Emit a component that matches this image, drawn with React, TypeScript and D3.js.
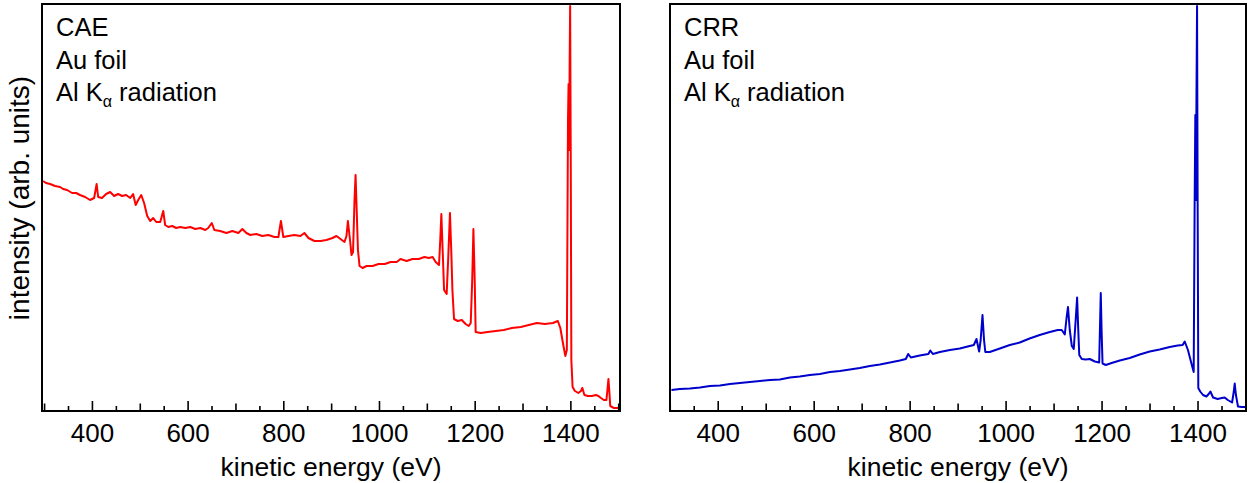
import React, { useEffect, useRef, useMemo } from 'react';
import * as d3 from 'd3';

// kinetic energy (eV) / intensity (arb. units)
const caeEnergy = [
  296.8, 303, 311.5, 322, 332.4, 338.7, 347, 357.5, 366, 374, 384.7, 395, 403.6, 408.8, 412, 420,
  428.7, 437, 445.4, 453.8, 462, 470.5, 479, 485, 490.4, 495.7, 502, 508, 514.5, 520.8, 527, 533.3,
  541.7, 548, 552, 558.5, 566.8, 575, 583.6, 594, 604.5, 615, 625.5, 636, 642, 649.5, 654.8, 667,
  680, 692.4, 705, 713.4, 721.8, 730, 742.7, 755, 767.8, 780.4, 788.7, 794, 799, 809.7, 822, 834.8,
  843, 851.5, 864, 876.7, 889, 901.8, 910, 918.5, 926.8, 931, 934, 938.4, 941.5, 944.7, 947.8, 950,
  952, 955, 958.3, 964.6, 973, 985.5, 998, 1011, 1023.5, 1036, 1044, 1056.7, 1069, 1082, 1094, 1103,
  1111, 1117.4, 1124.4, 1127, 1129.3, 1132, 1135, 1140.4, 1143.5, 1147.3, 1150, 1152.4, 1155.8, 1163.5,
  1172, 1180, 1186.5, 1190.7, 1193.8, 1196.3, 1199, 1201, 1211.6, 1226, 1243, 1259.8, 1276.5, 1295.4,
  1312, 1328.9, 1345.6, 1362.4, 1372.8, 1378, 1383, 1388.5, 1391.6, 1394, 1395.2, 1396.4, 1397.5,
  1398.5, 1399.7, 1401, 1403.6, 1408.4, 1415.7, 1421, 1424, 1428.3, 1435.6, 1444, 1452.3, 1457.6,
  1462.8, 1469, 1474.3, 1476.4, 1478.5, 1480.5, 1482.3, 1490, 1498.4, 1502.6,
];
const caeIntensity = [
  230, 228, 227, 225, 224, 222, 221, 218, 218, 216, 214, 211, 213, 227, 214, 213,
  217, 219, 215, 217, 215, 216, 213, 217, 206, 211, 216, 208, 195, 190, 193, 189,
  189, 200, 186, 184, 185, 183, 184, 183, 184, 182, 183, 181, 183, 188, 181, 180,
  178, 180, 178, 182, 178, 176, 177, 175, 176, 174, 174, 190, 174, 175, 176, 175,
  178, 173, 170, 170, 171, 173, 175, 172, 169, 175, 190, 171, 156, 159, 211, 236,
  206, 161, 145, 143, 145, 145, 147, 147, 149, 149, 152, 150, 152, 152, 154, 153,
  154, 149, 146, 171, 197, 161, 121, 117, 151, 198, 161, 121, 92, 90,
  91, 87, 85, 88, 131, 182, 131, 79, 78, 79, 80, 81, 83, 84,
  86, 88, 87, 88, 90, 83, 69, 55, 61, 291, 327, 261, 351,
  405, 261, 51, 24, 20, 18, 20, 23, 16, 15, 15, 16, 15,
  13, 11, 11, 21, 32, 19, 5, 3, 3, 3,
];

const crrEnergy = [
  302.5, 320, 341, 362, 382.7, 403.6, 424.4, 445.2, 466, 487, 508, 528.5, 549.4, 570, 591, 612,
  632.8, 653.6, 674.5, 695, 716, 737, 758, 778.5, 791, 796, 801.5, 820, 838, 842, 847.3, 862,
  883, 903.5, 920, 932.7, 938.3, 943.8, 947, 950.8, 954, 956.7, 966, 987, 1007.7, 1028.5, 1049, 1070,
  1091, 1107.7, 1116, 1122.3, 1126, 1129, 1132.7, 1137, 1141, 1145, 1148, 1150.4, 1152.5, 1157.7,
  1166, 1174.4, 1185, 1194, 1196, 1197.3, 1199, 1201, 1207.7, 1220, 1237, 1257.7, 1278.5, 1299.4,
  1320, 1341, 1357.7, 1368, 1372.3, 1379, 1386, 1391, 1393, 1394.4, 1395.6, 1396.7, 1398, 1399.2,
  1400.6, 1404.6, 1410.4, 1417.5, 1422.3, 1425.8, 1431.3, 1441, 1449.4, 1455.6, 1462, 1471, 1474.4,
  1476.5, 1479, 1483.3, 1491, 1499.4,
];
const crrIntensity = [
  21, 22, 22.5, 23.5, 25, 25.5, 27, 28, 29, 30, 31, 31.5, 33.5, 34.5, 36, 37,
  39, 40, 41.5, 43, 45, 46.5, 48.5, 50.5, 52, 57, 53.5, 55.5, 57, 60.5, 57, 59,
  61, 62.5, 64.5, 66, 72, 59.5, 71, 96, 71, 59, 59, 62.5, 66, 68.5, 72.5, 76,
  79, 81, 81, 76.5, 93, 104, 81, 65, 62, 91, 113.5, 81, 56, 52,
  51.5, 52, 49.5, 48.5, 91, 118, 81, 47.5, 46, 48, 50.5, 53, 56.5, 59.5,
  61.5, 64, 65.5, 66, 69.5, 61, 48, 39, 211, 296, 211, 311, 405, 211,
  23, 19.5, 16, 14.5, 17, 19.5, 13.5, 12, 13, 13.5, 11, 8.5, 19,
  27.5, 16, 4.5, 4, 4,
];

const tickValues = d3.range(300, 1501, 50);
const tickLabels = [400, 600, 800, 1000, 1200, 1400];
const annotationLines = ['Au foil'];

const FONT = '"Liberation Sans", Arial, Helvetica, sans-serif';

const Panel = ({ svgRef, x0, x1, domain, energy, intensity, color, name }) => {
  const top = 4;
  const bottom = 411;

  const { x, y } = useMemo(() => {
    const xScale = d3.scaleLinear().domain(domain).range([x0, x1]);
    const yScale = d3.scaleLinear().domain([0, 407]).range([bottom, top]);
    return { x: xScale, y: yScale };
  }, [x0, x1, domain]);

  useEffect(() => {
    const svg = d3.select(svgRef.current);
    const g = svg.append('g');
    const clipId = `clip-${name}`;

    g.append('clipPath').attr('id', clipId)
      .append('rect')
      .attr('x', x0).attr('y', top)
      .attr('width', x1 - x0).attr('height', bottom - top);

    const line = d3.line()
      .x(d => x(d[0]))
      .y(d => y(d[1]));

    g.append('path')
      .datum(energy.map((e, i) => [e, intensity[i]]))
      .attr('clip-path', `url(#${clipId})`)
      .attr('fill', 'none')
      .attr('stroke', color)
      .attr('stroke-width', 2)
      .attr('stroke-linejoin', 'round')
      .attr('d', line);

    // inward ticks, three lengths
    g.selectAll('line.tick')
      .data(tickValues.filter(v => v >= domain[0] && v <= domain[1]))
      .join('line')
      .attr('x1', d => x(d)).attr('x2', d => x(d))
      .attr('y1', bottom)
      .attr('y2', d => bottom - (d % 200 === 0 ? 10 : d % 100 === 0 ? 7.5 : 5))
      .attr('stroke', '#000')
      .attr('stroke-width', 1.6);

    g.selectAll('text.tick')
      .data(tickLabels)
      .join('text')
      .attr('x', d => x(d))
      .attr('y', 442)
      .attr('text-anchor', 'middle')
      .attr('font-family', FONT)
      .attr('font-size', 26)
      .text(d => d);

    g.append('rect')
      .attr('x', x0).attr('y', top)
      .attr('width', x1 - x0).attr('height', bottom - top)
      .attr('fill', 'none')
      .attr('stroke', '#000')
      .attr('stroke-width', 2);

    g.append('text')
      .attr('x', (x0 + x1) / 2)
      .attr('y', 476)
      .attr('text-anchor', 'middle')
      .attr('font-family', FONT)
      .attr('font-size', 26.5)
      .text('kinetic energy (eV)');

    const ann = g.append('g')
      .attr('font-family', FONT)
      .attr('font-size', 25.5);
    ann.append('text').attr('x', x0 + 14).attr('y', 36).text(name);
    ann.append('text').attr('x', x0 + 14).attr('y', 69).text(annotationLines[0]);
    const rad = ann.append('text').attr('x', x0 + 14).attr('y', 101);
    rad.append('tspan').text('Al K');
    rad.append('tspan').attr('font-size', 16).attr('dy', 6).text('α');
    rad.append('tspan').attr('dy', -6).text(' radiation');

    return () => { g.remove(); };
  }, [svgRef, x, y, x0, x1, domain, energy, intensity, color, name]);

  return null;
};

const leftDomain = [294.6, 1502.7];
const rightDomain = [299.5, 1500];

const App = () => {
  const svgRef = useRef();

  return (
    <svg
      ref={svgRef}
      width={1248}
      height={483}
      style={{ position: 'absolute', left: 0, top: 0, background: '#fff' }}
    >
      <text
        transform="translate(29,198) rotate(-90)"
        textAnchor="middle"
        fontFamily={FONT}
        fontSize={28}
      >
        intensity (arb. units)
      </text>
      <Panel svgRef={svgRef} x0={42} x1={620} domain={leftDomain}
        energy={caeEnergy} intensity={caeIntensity} color="#ff0000" name="CAE" />
      <Panel svgRef={svgRef} x0={670} x1={1246} domain={rightDomain}
        energy={crrEnergy} intensity={crrIntensity} color="#0000cc" name="CRR" />
    </svg>
  );
};

export default App;
